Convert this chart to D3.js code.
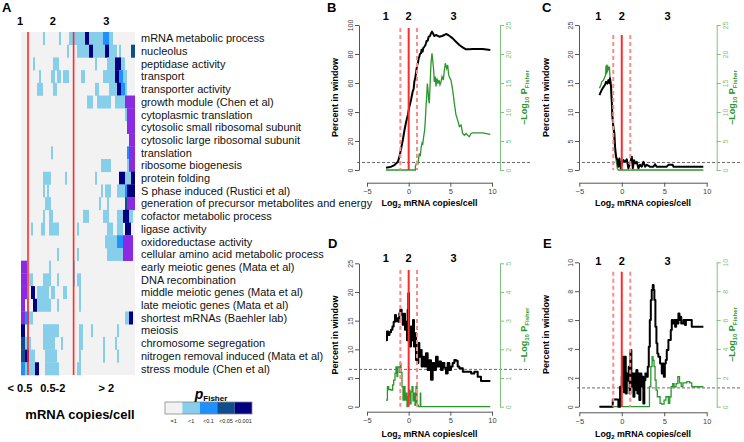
<!DOCTYPE html>
<html><head><meta charset="utf-8">
<script src="https://cdn.jsdelivr.net/npm/d3@7"></script>
<style>
body{margin:0;background:#fff;}
svg{display:block;font-family:"Liberation Sans",Arial,Helvetica,sans-serif;}
</style>
</head><body>
<svg id="chart" width="744" height="442"></svg>
<script>
// ---------------- DATA ----------------
const heatCategories = [
  "mRNA metabolic process","nucleolus","peptidase activity","transport","transporter activity",
  "growth module (Chen et al)","cytoplasmic translation","cytosolic small ribosomal subunit",
  "cytosolic large ribosomal subunit","translation","ribosome biogenesis","protein folding",
  "S phase induced (Rustici et al)","generation of precursor metabolites and energy",
  "cofactor metabolic process","ligase activity","oxidoreductase activity",
  "cellular amino acid metabolic process","early meiotic genes (Mata et al)","DNA recombination",
  "middle meiotic genes (Mata et al)","late meiotic genes (Mata et al)","shortest mRNAs (Baehler lab)",
  "meiosis","chromosome segregation","nitrogen removal induced (Mata et al)","stress module (Chen et al)"
];
const heatColumnCount = 57;
// runs per row: [firstColumn, lastColumn, significance level]
const heatRuns = [
  [[11,11,1],[19,19,1],[24,31,1],[32,33,4],[34,40,1],[41,43,2],[44,45,1]],
  [[23,23,1],[28,33,1],[34,35,4],[36,41,1],[42,43,4],[44,47,1],[49,49,1],[55,56,3]],
  [[6,6,1],[16,18,1],[37,37,1],[43,46,1],[47,49,4],[50,51,1]],
  [[9,9,1],[15,16,1],[18,19,1],[21,23,1],[30,31,1],[41,46,1],[47,48,4],[49,50,2],[51,52,1]],
  [[8,10,1],[16,17,1],[37,38,1],[44,47,1],[48,49,4],[50,51,2],[52,52,1]],
  [[33,35,1],[38,44,1],[47,51,1],[52,56,5]],
  [[52,52,1],[53,56,5]],
  [[53,56,5]],
  [[54,56,5]],
  [[15,15,1],[53,53,2],[54,56,5]],
  [[40,44,1],[53,53,1],[54,56,5]],
  [[11,14,1],[22,22,1],[37,37,1],[49,51,4],[52,54,1],[55,56,4]],
  [[11,11,1],[13,13,1],[40,40,1],[42,44,1],[48,51,1],[52,52,2],[53,56,4]],
  [[12,14,1],[39,39,1],[43,43,1],[52,52,3],[53,56,5]],
  [[11,11,1],[14,15,1],[31,33,1],[41,43,1],[48,50,1],[51,53,4],[54,55,1]],
  [[5,5,1],[10,11,1],[14,18,1],[28,28,1],[43,45,1],[48,50,1],[52,54,4]],
  [[42,47,1],[48,50,2],[51,55,5]],
  [[18,18,1],[28,28,1],[43,50,1],[51,55,5]],
  [[0,2,5],[14,14,1],[26,26,1]],
  [[0,2,5],[4,5,1],[11,14,1],[18,18,1],[26,26,1],[28,29,1]],
  [[0,2,5],[5,6,4],[8,13,1],[15,16,1],[21,22,1],[29,29,1]],
  [[0,1,5],[3,3,1],[6,7,4],[8,14,1],[18,18,1],[29,29,1]],
  [[0,1,5],[2,3,2],[4,5,1],[52,53,1],[54,55,4]],
  [[0,1,4],[3,3,1],[11,14,1],[15,18,1],[29,30,1],[35,35,1],[48,48,1]],
  [[0,1,3],[2,4,1],[11,16,1],[20,20,1],[29,30,1],[41,41,1],[47,47,1]],
  [[0,1,3],[2,3,4],[4,6,1],[12,17,1],[29,29,1],[41,41,1],[48,48,1]],
  [[0,1,2],[2,6,1],[7,8,4],[12,18,1],[28,29,1]]
];
const heatBoundaryColumns = [3.5, 26.3];
const heatGroupLabels = ["1","2","3"];
const heatBinLabels = ["< 0.5","0.5-2","> 2"];
const legendLabels = ["=1","<1","<0.1","<0.05","<0.001"];
const levelColors = ["#f2f2f2","#87ceeb","#1e90ff","#104e8b","#000080","#8a2be2"];

const xTicks = [-5,0,5,10];
const sectionLabels = ["1","2","3"];
const fisherThreshold = 0.05;

const bBlack = [[-2.72,1.6],[-2.1,2.3],[-1.7,3.4],[-1.3,5.7],[-1.1,9.2],[-0.9,15],[-0.7,20.7],[-0.5,27.6],[-0.3,33.3],[-0.1,37.9],[0.08,43.7],[0.28,48.3],[0.48,54],[0.6,56],[0.68,60.9],[0.8,64],[0.88,66.7],[0.95,70],[1.0,71.2],[1.05,73],[1.12,74],[1.2,77],[1.28,78.1],[1.35,80],[1.48,80.5],[1.55,83],[1.68,81.6],[1.75,84],[1.88,85],[2.0,86],[2.08,87.4],[2.15,89],[2.28,89.2],[2.4,91.9],[2.56,92.4],[2.68,94.3],[2.8,95.4],[2.96,93.8],[3.08,92.4],[3.28,93.1],[3.5,92.5],[3.68,91.9],[4.0,92.4],[4.28,93.1],[4.48,93.8],[4.68,93.3],[4.88,92.6],[5.28,90.8],[5.68,88.5],[6.08,86.2],[6.48,84.6],[6.88,83.2],[7.28,83.2],[7.68,83.4],[8.88,83.4],[9.8,82.8]];
const bGreen = [[-2.72,0],[0.8,0],[0.8,0.57],[1.0,1.43],[1.12,1.15],[1.28,2.87],[1.4,2.4],[1.48,3.74],[1.6,4.6],[1.68,4.31],[1.8,5.74],[1.92,6.9],[2.0,8.6],[2.08,10.9],[2.16,12.6],[2.24,14.9],[2.32,13.8],[2.4,12.1],[2.48,11.5],[2.56,14.4],[2.68,18.4],[2.8,20.1],[2.88,19],[3.0,17.2],[3.08,15.2],[3.2,16.1],[3.28,14.4],[3.4,15.8],[3.52,14.9],[3.64,15.5],[3.76,14.7],[3.88,15.2],[4.0,16.1],[4.16,15.5],[4.28,17.2],[4.4,18.4],[4.56,17.5],[4.68,18.1],[4.8,16.4],[4.96,15.8],[5.08,15.5],[5.28,13.8],[5.48,11.5],[5.68,9.5],[5.88,8.6],[6.08,7.5],[6.28,7.76],[6.48,6.3],[6.68,6.0],[6.88,6.3],[7.08,6.0],[7.28,5.74],[7.48,6.3],[7.68,6.4],[8.88,6.4],[9.8,6.15]];
const cBlack = [[-2.63,12.9],[-2.36,13.8],[-2.16,14.3],[-1.97,14.7],[-1.85,15.2],[-1.69,14.9],[-1.57,15.5],[-1.45,15.0],[-1.38,15.8],[-1.26,14.4],[-1.18,12.1],[-1.1,9.2],[-0.99,7.5],[-0.87,6.3],[-0.79,4.0],[-0.67,2.3],[-0.52,1.7],[-0.4,0.57],[-0.28,2.0],[-0.12,0.3],[0,1.15],[0.2,1.7],[0.39,1.4],[0.59,1.84],[0.78,0.3],[0.98,1.15],[1.18,2.3],[1.3,0.3],[1.45,1.7],[1.6,1.15],[1.77,1.4],[1.96,0.3],[2.15,0.9],[2.35,0.57],[2.55,1.4],[2.75,0.57],[2.95,0.9],[3.3,0.57],[3.73,0.57],[3.92,1.0],[4.1,0.57],[5.3,0.57],[5.49,0.9],[6.0,0.9],[6.08,0.57],[9.6,0.57]];
const cGreen = [[-2.63,14.1],[-2.45,14.7],[-2.36,15.2],[-2.16,15.5],[-1.97,16.1],[-1.9,16.5],[-1.85,18],[-1.8,16.5],[-1.75,18.2],[-1.7,16.8],[-1.65,18],[-1.57,17.2],[-1.45,17.8],[-1.38,15.8],[-1.26,13.2],[-1.14,10.3],[-1.02,7.5],[-0.91,5.2],[-0.79,3.2],[-0.67,1.7],[-0.52,0.2],[-0.4,0],[9.6,0]];
const dBlack = [[-2.72,11.6],[-2.6,13.1],[-2.45,12.5],[-2.3,13.0],[-2.12,13.4],[-1.95,14.0],[-1.8,14.8],[-1.64,16.0],[-1.52,14.9],[-1.4,15.4],[-1.24,14.8],[-1.12,16.3],[-1.0,16.9],[-0.84,16.0],[-0.72,14.3],[-0.6,16.2],[-0.44,13.4],[-0.32,14.8],[-0.2,11.6],[-0.12,16.9],[-0.04,19.8],[0.04,14.0],[0.16,10.5],[0.28,14.0],[0.4,11.6],[0.52,15.1],[0.64,10.5],[0.76,12.8],[0.88,8.15],[1.0,7.6],[1.16,11.1],[1.28,8.7],[1.4,9.9],[1.56,7.0],[1.68,8.7],[1.88,7.0],[2.08,9.3],[2.28,6.4],[2.48,8.1],[2.68,4.7],[2.88,7.6],[3.08,6.4],[3.28,8.7],[3.48,7.0],[3.68,7.9],[3.88,6.4],[4.08,7.6],[4.28,6.8],[4.48,5.8],[4.68,7.6],[4.88,6.4],[5.08,7.0],[5.28,7.6],[5.48,8.15],[5.68,8.0],[5.88,7.0],[6.08,6.7],[6.5,6.1],[7.0,6.1],[7.5,5.8],[7.88,6.1],[8.28,5.2],[8.68,4.5],[9.8,4.5]];
const dGreen = [[-2.72,0.23],[-2.55,0.7],[-2.4,0.6],[-2.12,0.58],[-1.92,0.76],[-1.8,0.93],[-1.64,1.16],[-1.52,1.39],[-1.4,1.05],[-1.32,1.39],[-1.12,1.2],[-1.0,1.51],[-0.92,1.2],[-0.8,0.7],[-0.68,0.23],[-0.56,0.7],[-0.44,0.23],[-0.32,0.47],[-0.2,0],[-0.08,0.35],[0.04,0.58],[0.16,0.1],[0.28,0.52],[0.4,0.7],[0.52,0.2],[0.64,0.47],[0.76,0.05],[0.88,0.7],[1.0,0.05],[1.16,0],[1.35,0],[1.4,0.47],[1.45,0],[9.8,0]];
const eBlack = [[-2.63,0],[-1.06,0],[-1.06,0.5],[-0.4,0.5],[-0.4,0],[-0.2,1.38],[0,2.08],[0.12,3.46],[0.24,1.0],[0.35,3.46],[0.47,0.92],[0.59,2.3],[0.7,1.8],[0.82,2.77],[0.93,0.92],[1.01,3.92],[1.13,1.4],[1.25,2.3],[1.37,0.69],[1.49,2.3],[1.6,1.15],[1.72,2.54],[1.84,0.92],[1.96,2.3],[2.07,0.46],[2.19,2.3],[2.31,1.4],[2.43,2.08],[2.54,0.23],[2.66,1.84],[2.78,2.3],[2.9,2.08],[3.06,2.77],[3.18,4.15],[3.3,6.0],[3.42,7.39],[3.53,8.08],[3.65,8.43],[3.75,8.08],[3.84,7.39],[3.96,5.54],[4.08,4.39],[4.19,3.69],[4.31,3.46],[4.51,3.0],[4.71,2.3],[4.83,3.0],[4.95,2.08],[5.07,3.0],[5.18,3.23],[5.3,3.92],[5.49,4.62],[5.65,4.62],[5.77,5.31],[5.89,6.0],[6.0,5.77],[6.16,6.0],[6.28,5.54],[6.4,6.0],[6.55,5.77],[6.67,6.46],[6.79,6.0],[6.9,6.23],[7.0,5.77],[7.26,6.0],[7.45,5.65],[7.55,6.0],[7.77,6.0],[8.0,6.0],[8.24,5.54],[9.61,5.54]];
const eGreen = [[-2.63,0],[3.14,0],[3.26,1.38],[3.42,2.77],[3.57,3.46],[3.68,3.2],[3.8,2.77],[3.92,1.85],[4.04,1.15],[4.19,0.69],[4.51,0.23],[4.7,0.18],[4.98,0.46],[5.2,0.69],[5.49,0.23],[5.65,0.69],[5.81,1.38],[6.0,1.6],[6.16,1.38],[6.4,1.6],[6.6,2.08],[6.8,1.65],[7.0,1.4],[7.2,1.65],[7.65,1.73],[8.0,1.65],[8.24,1.38],[9.61,1.38]];

// ---------------- DRAW ----------------
const svg = d3.select("#chart");
const GREEN = "#2b962b", GREEN_AXIS = "#7cc47c", RED = "#ff2a2a", RED_DASH = "#ff8a8a";

// Panel A heatmap
const xH = d3.scaleLinear().domain([0, heatColumnCount]).range([21, 135]);
const yH = d3.scaleBand().domain(heatCategories).range([32, 375]);
svg.append("text").text("A").attr("x", 2).attr("y", 12).attr("font-size", 13).attr("font-weight", "bold");
svg.append("rect").attr("x", xH(0)).attr("y", yH.range()[0]).attr("width", xH(heatColumnCount) - xH(0))
  .attr("height", yH.range()[1] - yH.range()[0]).attr("fill", levelColors[0]);
heatRuns.forEach((runs, i) => {
  runs.forEach(([a, b, l]) => {
    svg.append("rect").attr("x", xH(a)).attr("width", xH(b + 1) - xH(a))
      .attr("y", yH(heatCategories[i])).attr("height", yH.bandwidth() + 0.3)
      .attr("fill", levelColors[l]);
  });
});
heatBoundaryColumns.forEach(c => {
  svg.append("line").attr("x1", xH(c)).attr("x2", xH(c)).attr("y1", 32).attr("y2", 375)
    .attr("stroke", RED).attr("stroke-width", 1.6);
});
const groupX = [xH(0) - 1, (xH(heatBoundaryColumns[0]) + xH(heatBoundaryColumns[1])) / 2 + 2, (xH(heatBoundaryColumns[1]) + xH(heatColumnCount)) / 2 + 2];
heatGroupLabels.forEach((t, i) => svg.append("text").text(t).attr("x", groupX[i]).attr("y", 25)
  .attr("text-anchor", "middle").attr("font-size", 11).attr("font-weight", "bold"));
heatBinLabels.forEach((t, i) => svg.append("text").text(t).attr("x", groupX[i]).attr("y", 392)
  .attr("text-anchor", "middle").attr("font-size", 11).attr("font-weight", "bold"));
svg.append("text").text("mRNA copies/cell").attr("x", 80).attr("y", 419).attr("text-anchor", "middle")
  .attr("font-size", 13).attr("font-weight", "bold");
heatCategories.forEach(c => svg.append("text").text(c).attr("x", 141)
  .attr("y", yH(c) + yH.bandwidth() / 2).attr("dy", "0.36em").attr("font-size", 11).attr("fill", "#111"));

// legend
const xL = d3.scaleBand().domain(legendLabels).range([165, 252]);
legendLabels.forEach((t, i) => {
  svg.append("rect").attr("x", xL(t)).attr("y", 402).attr("width", xL.bandwidth()).attr("height", 12)
    .attr("fill", levelColors[i]);
  svg.append("text").text(t).attr("x", xL(t) + xL.bandwidth() / 2).attr("y", 423).attr("text-anchor", "middle")
    .attr("font-size", 5.5).attr("fill", "#222");
});
svg.append("rect").attr("x", 165).attr("y", 402).attr("width", 87).attr("height", 12).attr("fill", "none")
  .attr("stroke", "#888").attr("stroke-width", 0.8);
const pf = svg.append("text").attr("x", 211).attr("y", 399).attr("text-anchor", "middle").attr("font-weight", "bold");
pf.append("tspan").text("p").attr("font-size", 14).attr("font-style", "italic");
pf.append("tspan").text("Fisher").attr("font-size", 8).attr("dy", 2);

// Panels B-E
function panel(o) {
  const g = svg.append("g");
  const x = d3.scaleLinear().domain([-5, 10]).range(o.xr);
  const y = d3.scaleLinear().domain([0, o.yMax]).range([o.y0, o.yTop]);
  const yr = d3.scaleLinear().domain([0, o.rMax]).range([o.y0, o.yTop]);
  const thr = -Math.log10(fisherThreshold);
  g.append("line").attr("x1", o.dash[0]).attr("x2", o.dash[1]).attr("y1", yr(thr)).attr("y2", yr(thr))
    .attr("stroke", "#444").attr("stroke-width", 0.8).attr("stroke-dasharray", "3,2");
  const lineL = d3.line().x(d => x(d[0])).y(d => y(d[1])).curve(o.step ? d3.curveStepAfter : d3.curveLinear);
  const lineR = d3.line().x(d => x(d[0])).y(d => yr(d[1])).curve(o.step ? d3.curveStepAfter : d3.curveLinear);
  g.append("path").datum(o.green).attr("d", lineR).attr("fill", "none").attr("stroke", GREEN).attr("stroke-width", 1.3);
  g.append("path").datum(o.black).attr("d", lineL).attr("fill", "none").attr("stroke", "#000").attr("stroke-width", 2).attr("stroke-linejoin", "round");
  [-1, 1].forEach(v => g.append("line").attr("x1", x(v)).attr("x2", x(v)).attr("y1", o.redTop).attr("y2", o.y0)
    .attr("stroke", RED_DASH).attr("stroke-width", 2).attr("stroke-dasharray", "4,3"));
  g.append("line").attr("x1", x(0)).attr("x2", x(0)).attr("y1", o.redTop).attr("y2", o.y0)
    .attr("stroke", RED).attr("stroke-width", 2);

  const fmt = d3.format("d");
  // left axis
  const la = g.append("g").attr("transform", `translate(${o.leftX},0)`)
    .call(d3.axisLeft(y).tickValues(d3.range(0, o.yMax + 0.001, o.yStep)).tickFormat(fmt).tickSize(4).tickSizeOuter(0));
  la.select(".domain").attr("stroke", "#555");
  la.selectAll(".tick line").attr("stroke", "#555");
  la.selectAll("text").attr("transform", "rotate(-90)").attr("x", 0).attr("y", -6).attr("dy", 0)
    .attr("text-anchor", "middle").attr("font-size", 7).attr("fill", "#444").attr("font-family", null);
  // right axis
  const ra = g.append("g").attr("transform", `translate(${o.rightX},0)`)
    .call(d3.axisRight(yr).tickValues(d3.range(0, o.rMax + 0.001, o.rStep)).tickFormat(fmt).tickSize(4).tickSizeOuter(0));
  ra.select(".domain").attr("stroke", GREEN_AXIS);
  ra.selectAll(".tick line").attr("stroke", GREEN_AXIS);
  ra.selectAll("text").attr("transform", "rotate(-90)").attr("x", 0).attr("y", 11).attr("dy", 0)
    .attr("text-anchor", "middle").attr("font-size", 7).attr("fill", GREEN_AXIS).attr("font-family", null);
  // bottom axis
  const ba = g.append("g").attr("transform", `translate(0,${o.axisY})`)
    .call(d3.axisBottom(x).tickValues(xTicks).tickFormat(fmt).tickSize(4).tickSizeOuter(0));
  ba.select(".domain").attr("stroke", "#555");
  ba.selectAll(".tick line").attr("stroke", "#555");
  ba.selectAll("text").attr("y", 6).attr("font-size", 7.5).attr("fill", "#444").attr("font-family", null);

  // titles
  const mid = (o.y0 + o.yTop) / 2;
  g.append("text").text("Percent in window").attr("transform", `translate(${o.leftTitleX},${mid}) rotate(-90)`)
    .attr("text-anchor", "middle").attr("font-size", 9).attr("font-weight", "bold");
  const rt = g.append("text").attr("transform", `translate(${o.rightTitleX},${mid}) rotate(-90)`)
    .attr("text-anchor", "middle").attr("font-weight", "bold").attr("fill", GREEN).attr("font-size", 9);
  rt.append("tspan").text("\u2013Log");
  rt.append("tspan").text("10").attr("font-size", 6).attr("dy", 2);
  rt.append("tspan").text(" P").attr("dy", -2);
  rt.append("tspan").text("Fisher").attr("font-size", 6).attr("dy", 2);
  const xt = g.append("text").attr("x", (o.xr[0] + o.xr[1]) / 2).attr("y", o.xTitleY).attr("text-anchor", "middle")
    .attr("font-weight", "bold").attr("font-size", 8.8);
  xt.append("tspan").text("Log");
  xt.append("tspan").text("2").attr("font-size", 6).attr("dy", 1.5);
  xt.append("tspan").text(" mRNA copies/cell").attr("dy", -1.5);

  g.append("text").text(o.letter).attr("x", o.letterX).attr("y", o.letterY).attr("font-size", 13).attr("font-weight", "bold");
  const sx = [-2.75, 0, 5.4];
  sectionLabels.forEach((t, i) => g.append("text").text(t).attr("x", x(sx[i])).attr("y", o.numsY)
    .attr("text-anchor", "middle").attr("font-size", 11).attr("font-weight", "bold"));
}

panel({letter:"B", letterX:327, letterY:12, xr:[367,492], y0:170, yTop:25, yMax:100, yStep:20, rMax:25, rStep:5,
  axisY:182.7, leftX:359, rightX:500, redTop:28, dash:[357,530], numsY:20, xTitleY:206, leftTitleX:338, rightTitleX:527,
  black:bBlack, green:bGreen, step:false});
panel({letter:"C", letterX:542, letterY:12, xr:[579.3,706.7], y0:170, yTop:25, yMax:25, yStep:5, rMax:25, rStep:5,
  axisY:182.7, leftX:579, rightX:716.7, redTop:35, dash:[577,742], numsY:20, xTitleY:206, leftTitleX:549, rightTitleX:735,
  black:cBlack, green:cGreen, step:false});
panel({letter:"D", letterX:328, letterY:248, xr:[367,492], y0:406.7, yTop:263.3, yMax:25, yStep:5, rMax:5, rStep:1,
  axisY:411.7, leftX:359, rightX:500, redTop:270, dash:[349,530], numsY:262, xTitleY:437, leftTitleX:338, rightTitleX:527,
  black:dBlack, green:dGreen, step:true});
panel({letter:"E", letterX:543, letterY:248, xr:[579.3,706.7], y0:406.7, yTop:262.3, yMax:10, yStep:2, rMax:10, rStep:2,
  axisY:412.3, leftX:579, rightX:716.7, redTop:271.7, dash:[577,742], numsY:265, xTitleY:437, leftTitleX:549, rightTitleX:735,
  black:eBlack, green:eGreen, step:true});
</script>
</body></html>
